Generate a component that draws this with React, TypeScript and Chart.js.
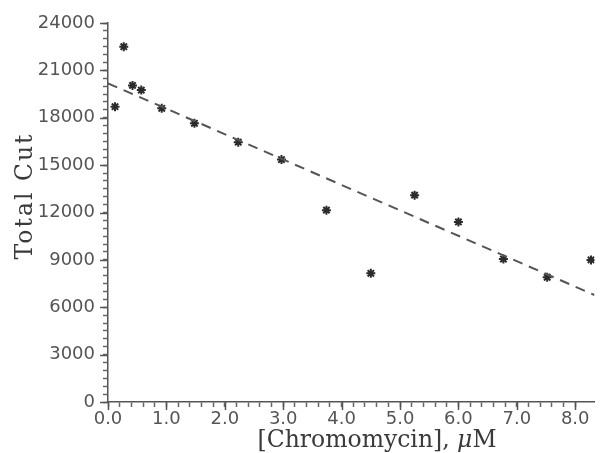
import React, { useEffect, useRef } from "react";
import { Chart, registerables } from "chart.js";

Chart.register(...registerables);

// Measured data: [Chromomycin] (µM) vs Total Cut
const concX = [0.12, 0.27, 0.42, 0.57, 0.92, 1.48, 2.23, 2.97, 3.74, 4.5, 5.25, 6.0, 6.77, 7.52, 8.27];
const cutY = [18700, 22500, 20050, 19750, 18600, 17650, 16450, 15350, 12150, 8150, 13100, 11400, 9050, 7900, 9000];

// Fitted (dashed) line end points
const fitX = [0, 8.33];
const fitY = [20180, 6775];

// Axis ranges and tick settings
const xMin = 0;
const xMax = 8.33;
const xMinorStep = 0.2;
const xMajorStep = 1;
const yMin = 0;
const yMax = 24000;
const yMinorStep = 500;
const yMajorStep = 3000;

const xTitleMain = "[Chromomycin], ";
const xTitleUnitGreek = "\u03bc";
const xTitleUnit = "M";
const yTitle = "Total Cut";

const isMultiple = (v: number, step: number) =>
  Math.abs(v / step - Math.round(v / step)) < 1e-6;

const extrasPlugin = {
  id: "extras",
  afterDraw(chart: any) {
    const ctx = chart.ctx;
    const xs = chart.scales.x;
    const ys = chart.scales.y;
    const area = chart.chartArea;
    ctx.save();
    // major ticks (longer)
    ctx.strokeStyle = "#555";
    ctx.lineWidth = 1.5;
    for (let v = xMin; v <= xMax + 1e-9; v += xMajorStep) {
      const px = Math.round(xs.getPixelForValue(v)) + 0.5;
      ctx.beginPath();
      ctx.moveTo(px, area.bottom);
      ctx.lineTo(px, area.bottom + 8);
      ctx.stroke();
    }
    for (let v = yMin; v <= yMax + 1e-9; v += yMajorStep) {
      const py = Math.round(ys.getPixelForValue(v)) + 0.5;
      ctx.beginPath();
      ctx.moveTo(area.left - 8, py);
      ctx.lineTo(area.left, py);
      ctx.stroke();
    }
    // axis titles
    ctx.fillStyle = "#3a3a3a";
    ctx.textBaseline = "alphabetic";
    ctx.textAlign = "left";
    const fontMain = "23.5px 'DejaVu Serif'";
    const fontItal = "italic 23.5px 'DejaVu Serif'";
    ctx.font = fontMain;
    const w1 = ctx.measureText(xTitleMain).width;
    ctx.font = fontItal;
    const w2 = ctx.measureText(xTitleUnitGreek).width;
    ctx.font = fontMain;
    const w3 = ctx.measureText(xTitleUnit).width;
    const total = w1 + w2 + w3;
    const cx = 377;
    const x0 = cx - total / 2;
    const by = area.bottom + 45;
    ctx.font = fontMain;
    ctx.fillText(xTitleMain, x0, by);
    ctx.font = fontItal;
    ctx.fillText(xTitleUnitGreek, x0 + w1, by);
    ctx.font = fontMain;
    ctx.fillText(xTitleUnit, x0 + w1 + w2, by);

    ctx.translate(32, 196);
    ctx.rotate(-Math.PI / 2);
    ctx.textAlign = "center";
    ctx.font = "23.5px 'DejaVu Serif'";
    try {
      (ctx as any).letterSpacing = "2px";
    } catch (e) {}
    ctx.fillText(yTitle, 0, 0);
    ctx.restore();
  },
};

export default function App() {
  const canvasRef = useRef<HTMLCanvasElement | null>(null);

  useEffect(() => {
    document.body.style.margin = "0";
    const canvas = canvasRef.current;
    if (!canvas) return;
    const tickFont = { family: "'DejaVu Sans'", size: 18 };
    const chart = new Chart(canvas, {
      type: "scatter",
      data: {
        datasets: [
          {
            type: "line",
            label: "fit",
            data: fitX.map((x, i) => ({ x, y: fitY[i] })),
            borderColor: "#555",
            borderWidth: 2,
            borderDash: [10, 7],
            pointRadius: 0,
            fill: false,
          } as any,
          {
            label: "Total Cut",
            data: concX.map((x, i) => ({ x, y: cutY[i] })),
            pointStyle: "star",
            radius: 4.5,
            borderWidth: 2,
            borderColor: "#2b2b2b",
            backgroundColor: "#2b2b2b",
          },
        ],
      },
      options: {
        animation: false,
        responsive: false,
        devicePixelRatio: 1,
        layout: { padding: { top: 23, right: 4, left: 0, bottom: 0 } },
        plugins: { legend: { display: false }, tooltip: { enabled: false } },
        scales: {
          x: {
            type: "linear",
            min: xMin,
            max: xMax,
            afterFit(scale: any) {
              scale.height = 51;
            },
            afterBuildTicks(scale: any) {
              scale.ticks = scale.ticks.filter((t: any) => isMultiple(t.value, xMinorStep));
            },
            border: { display: true, color: "#555", width: 1.5 },
            grid: {
              display: true,
              drawOnChartArea: false,
              drawTicks: true,
              tickLength: 5,
              tickColor: "#666",
              tickWidth: 1.5,
            },
            ticks: {
              stepSize: xMinorStep,
              autoSkip: false,
              maxRotation: 0,
              padding: 2,
              color: "#555",
              font: tickFont,
              callback: (v: any) => (isMultiple(Number(v), xMajorStep) ? Number(v).toFixed(1) : ""),
            },
          },
          y: {
            type: "linear",
            min: yMin,
            max: yMax,
            afterFit(scale: any) {
              scale.width = 108;
            },
            border: { display: true, color: "#555", width: 1.5 },
            grid: {
              display: true,
              drawOnChartArea: false,
              drawTicks: true,
              tickLength: 5,
              tickColor: "#666",
              tickWidth: 1.5,
            },
            ticks: {
              stepSize: yMinorStep,
              autoSkip: false,
              padding: 8,
              color: "#555",
              font: tickFont,
              callback: (v: any) => (isMultiple(Number(v), yMajorStep) ? String(v) : ""),
            },
          },
        },
      },
      plugins: [extrasPlugin],
    });
    return () => chart.destroy();
  }, []);

  return (
    <div style={{ width: 601, height: 453 }}>
      <canvas ref={canvasRef} width={601} height={453} />
    </div>
  );
}
